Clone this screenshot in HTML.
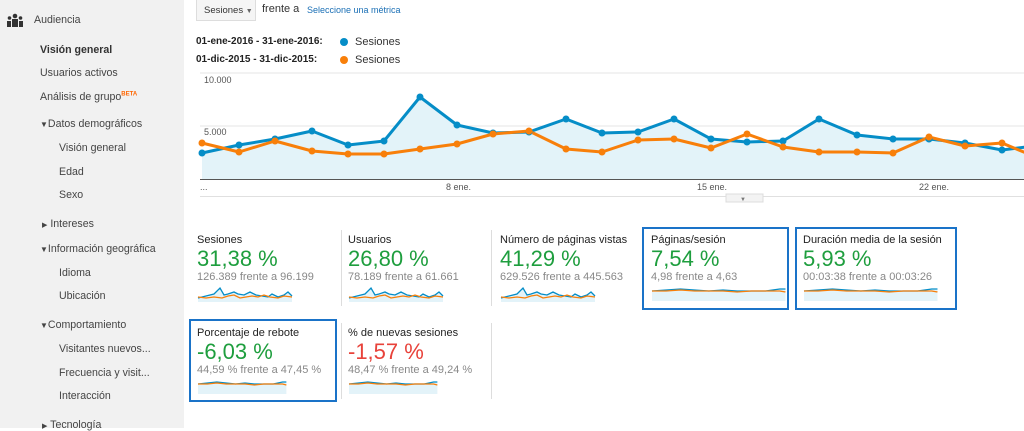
<!DOCTYPE html>
<html><head><meta charset="utf-8"><style>
*{margin:0;padding:0;box-sizing:border-box}
body{width:1024px;height:428px;overflow:hidden;background:#fff;font-family:"Liberation Sans",Arial,sans-serif;position:relative;color:#333}
.sb{position:absolute;left:0;top:0;width:184px;height:428px;background:#f1f1f1}
.t{position:absolute;white-space:nowrap}
.s1{font-size:10.6px;color:#444}
.card .h{font-size:11px;color:#222}
.card .v{font-size:22px;color:#1e9e3e}
.card .c{font-size:11px;color:#888}
.box{position:absolute;border:2px solid #1a73c8}
.sep{position:absolute;width:1px;background:#ddd}
</style></head><body>
<div class="sb"></div>
<svg class="t" style="left:7px;top:13px" width="16" height="14"><circle cx="8" cy="3" r="2.3" fill="#333"/><circle cx="2.5" cy="5" r="1.8" fill="#333"/><circle cx="13.5" cy="5" r="1.8" fill="#333"/><rect x="5" y="6" width="6" height="8" fill="#333"/><rect x="0" y="8" width="4" height="6" fill="#333"/><rect x="12" y="8" width="4" height="6" fill="#333"/></svg>
<div class="t s1" style="left:34px;top:14px">Audiencia</div>
<div class="t s1" style="left:40px;top:44px;font-weight:bold;color:#333">Visión general</div>
<div class="t s1" style="left:40px;top:67px">Usuarios activos</div>
<div class="t s1" style="left:40px;top:91px">Análisis de grupo<sup style="font-size:6px;color:#f60;font-weight:bold">BETA</sup></div>
<div class="t s1" style="left:40px;top:118px"><span style="font-size:8px">▼</span>Datos demográficos</div>
<div class="t s1" style="left:59px;top:142px">Visión general</div>
<div class="t s1" style="left:59px;top:166px">Edad</div>
<div class="t s1" style="left:59px;top:189px">Sexo</div>
<div class="t s1" style="left:42px;top:218px"><span style="font-size:7px">▶</span> Intereses</div>
<div class="t s1" style="left:40px;top:243px"><span style="font-size:8px">▼</span>Información geográfica</div>
<div class="t s1" style="left:59px;top:267px">Idioma</div>
<div class="t s1" style="left:59px;top:290px">Ubicación</div>
<div class="t s1" style="left:40px;top:319px"><span style="font-size:8px">▼</span>Comportamiento</div>
<div class="t s1" style="left:59px;top:343px">Visitantes nuevos...</div>
<div class="t s1" style="left:59px;top:367px">Frecuencia y visit...</div>
<div class="t s1" style="left:59px;top:390px">Interacción</div>
<div class="t s1" style="left:42px;top:419px"><span style="font-size:7px">▶</span> Tecnología</div>

<div class="t" style="left:196px;top:0;width:60px;height:21px;border:1px solid #ddd;border-top:none;background:#f5f5f5;font-size:9.5px;padding:5px 0 0 7px;color:#333">Sesiones <span style="font-size:7px;color:#666">▼</span></div>
<div class="t" style="left:262px;top:3px;font-size:11px;color:#333">frente a</div>
<div class="t" style="left:307px;top:5px;font-size:9px;color:#1a6fb5">Seleccione una métrica</div>
<div class="t" style="left:196px;top:36px;font-size:10px;font-weight:bold;color:#222">01-ene-2016 - 31-ene-2016:</div>
<div class="t" style="left:196px;top:54px;font-size:10px;font-weight:bold;color:#222">01-dic-2015 - 31-dic-2015:</div>
<svg class="t" style="left:339px;top:37px" width="10" height="30"><circle cx="5" cy="5" r="4" fill="#058dc7"/><circle cx="5" cy="23" r="4" fill="#f87f0a"/></svg>
<div class="t" style="left:355px;top:36px;font-size:11px;color:#333">Sesiones</div>
<div class="t" style="left:355px;top:54px;font-size:11px;color:#333">Sesiones</div>

<svg class="t" style="left:0;top:0" width="1024" height="210">
<line x1="200" y1="73" x2="1024" y2="73" stroke="#e6e6e6"/>
<line x1="200" y1="126" x2="1024" y2="126" stroke="#e6e6e6"/>
<polygon fill="#e3f3f9" points="202,179 202,153 239,145 275,139 312,131 348,145 384,141 420,97 457,125 493,133 529,132 566,119 602,133 638,132 674,119 711,139 747,142 783,141 819,119 857,135 893,139 929,139 965,143 1002,150 1026,147 1026,179"/>
<line x1="200" y1="179.5" x2="1024" y2="179.5" stroke="#555"/>
<line x1="200" y1="196.5" x2="1024" y2="196.5" stroke="#e0e0e0"/>
<polyline fill="none" stroke="#058dc7" stroke-width="3" stroke-linejoin="round" points="202,153 239,145 275,139 312,131 348,145 384,141 420,97 457,125 493,133 529,132 566,119 602,133 638,132 674,119 711,139 747,142 783,141 819,119 857,135 893,139 929,139 965,143 1002,150 1026,147"/>
<polyline fill="none" stroke="#f87f0a" stroke-width="3" stroke-linejoin="round" points="202,143 239,152 275,141 312,151 348,154 384,154 420,149 457,144 493,134 529,131 566,149 602,152 638,140 674,139 711,148 747,134 783,147 819,152 857,152 893,153 929,137 965,146 1002,143 1026,153"/>
<g fill="#058dc7"><circle cx="202" cy="153" r="3.5"/><circle cx="239" cy="145" r="3.5"/><circle cx="275" cy="139" r="3.5"/><circle cx="312" cy="131" r="3.5"/><circle cx="348" cy="145" r="3.5"/><circle cx="384" cy="141" r="3.5"/><circle cx="420" cy="97" r="3.5"/><circle cx="457" cy="125" r="3.5"/><circle cx="493" cy="133" r="3.5"/><circle cx="529" cy="132" r="3.5"/><circle cx="566" cy="119" r="3.5"/><circle cx="602" cy="133" r="3.5"/><circle cx="638" cy="132" r="3.5"/><circle cx="674" cy="119" r="3.5"/><circle cx="711" cy="139" r="3.5"/><circle cx="747" cy="142" r="3.5"/><circle cx="783" cy="141" r="3.5"/><circle cx="819" cy="119" r="3.5"/><circle cx="857" cy="135" r="3.5"/><circle cx="893" cy="139" r="3.5"/><circle cx="929" cy="139" r="3.5"/><circle cx="965" cy="143" r="3.5"/><circle cx="1002" cy="150" r="3.5"/></g>
<g fill="#f87f0a"><circle cx="202" cy="143" r="3.5"/><circle cx="239" cy="152" r="3.5"/><circle cx="275" cy="141" r="3.5"/><circle cx="312" cy="151" r="3.5"/><circle cx="348" cy="154" r="3.5"/><circle cx="384" cy="154" r="3.5"/><circle cx="420" cy="149" r="3.5"/><circle cx="457" cy="144" r="3.5"/><circle cx="493" cy="134" r="3.5"/><circle cx="529" cy="131" r="3.5"/><circle cx="566" cy="149" r="3.5"/><circle cx="602" cy="152" r="3.5"/><circle cx="638" cy="140" r="3.5"/><circle cx="674" cy="139" r="3.5"/><circle cx="711" cy="148" r="3.5"/><circle cx="747" cy="134" r="3.5"/><circle cx="783" cy="147" r="3.5"/><circle cx="819" cy="152" r="3.5"/><circle cx="857" cy="152" r="3.5"/><circle cx="893" cy="153" r="3.5"/><circle cx="929" cy="137" r="3.5"/><circle cx="965" cy="146" r="3.5"/><circle cx="1002" cy="143" r="3.5"/></g>
<g font-family="Liberation Sans,sans-serif" font-size="9" fill="#555">
<text x="204" y="83">10.000</text><text x="204" y="135">5.000</text>
<text x="200" y="190">...</text><text x="446" y="190">8 ene.</text><text x="697" y="190">15 ene.</text><text x="919" y="190">22 ene.</text></g>
<rect x="726" y="194" width="37" height="8" fill="#f3f3f3" stroke="#ddd"/>
<text x="740" y="201" font-size="6" fill="#777">▼</text>
</svg>

<div class="sep" style="left:341px;top:230px;height:76px"></div>
<div class="sep" style="left:491px;top:230px;height:76px"></div>
<div class="sep" style="left:955px;top:230px;height:76px"></div>
<div class="sep" style="left:341px;top:323px;height:76px"></div>
<div class="sep" style="left:491px;top:323px;height:76px"></div>
<div class="box" style="left:642px;top:227px;width:147px;height:83px"></div>
<div class="box" style="left:795px;top:227px;width:162px;height:83px"></div>
<div class="box" style="left:189px;top:319px;width:148px;height:83px"></div>

<div class="card">
<div class="t h" style="left:197px;top:234px">Sesiones</div><div class="t v" style="left:197px;top:246px">31,38 %</div><div class="t c" style="left:197px;top:271px">126.389 frente a 96.199</div>
<div class="t h" style="left:348px;top:234px">Usuarios</div><div class="t v" style="left:348px;top:246px">26,80 %</div><div class="t c" style="left:348px;top:271px">78.189 frente a 61.661</div>
<div class="t h" style="left:500px;top:234px">Número de páginas vistas</div><div class="t v" style="left:500px;top:246px">41,29 %</div><div class="t c" style="left:500px;top:271px">629.526 frente a 445.563</div>
<div class="t h" style="left:651px;top:234px">Páginas/sesión</div><div class="t v" style="left:651px;top:246px">7,54 %</div><div class="t c" style="left:651px;top:271px">4,98 frente a 4,63</div>
<div class="t h" style="left:803px;top:234px">Duración media de la sesión</div><div class="t v" style="left:803px;top:246px">5,93 %</div><div class="t c" style="left:803px;top:271px">00:03:38 frente a 00:03:26</div>
<div class="t h" style="left:197px;top:327px">Porcentaje de rebote</div><div class="t v" style="left:197px;top:339px">-6,03 %</div><div class="t c" style="left:197px;top:364px">44,59 % frente a 47,45 %</div>
<div class="t h" style="left:348px;top:327px">% de nuevas sesiones</div><div class="t v" style="left:348px;top:339px;color:#e8423a">-1,57 %</div><div class="t c" style="left:348px;top:364px">48,47 % frente a 49,24 %</div>
</div>

<svg class="t" style="left:0;top:0" width="1024" height="428">
<defs>
<g id="sp1"><polygon fill="#e3f3f9" points="0,8 8,6 16,4 22,-2 26,5 30,4 36,2 40,4 46,5 52,2 58,5 64,6 70,7 74,4 80,7 86,5 90,2 94,6 94,12 0,12"/><polyline fill="none" stroke="#058dc7" stroke-width="1.3" points="0,8 8,6 16,4 22,-2 26,5 30,4 36,2 40,4 46,5 52,2 58,5 64,6 70,7 74,4 80,7 86,5 90,2 94,6"/><polyline fill="none" stroke="#f87f0a" stroke-width="1.3" points="0,7 8,8 16,7 24,8 30,6 36,5 42,8 48,7 54,6 60,7 66,5 72,7 80,8 86,6 94,7"/></g>
<g id="sp2"><polygon fill="#e3f3f9" points="0,4 10,3 20,2 30,3 40,4 50,3 60,4 70,4 80,4 90,2 94,2 94,14 0,14"/><polyline fill="none" stroke="#058dc7" stroke-width="1.3" points="0,4 10,3 20,2 30,3 40,4 50,3 60,4 70,4 80,4 90,2 94,2"/><polyline fill="none" stroke="#f87f0a" stroke-width="1.3" points="0,4 10,4 20,3 30,4 40,4 50,4 60,5 70,4 80,4 90,4 94,5"/></g>
</defs>
<use href="#sp1" transform="translate(198,290)"/>
<use href="#sp1" transform="translate(349,290)"/>
<use href="#sp1" transform="translate(501,290)"/>
<use href="#sp2" transform="translate(652,287) scale(1.42,1)"/>
<use href="#sp2" transform="translate(804,287) scale(1.42,1)"/>
<use href="#sp2" transform="translate(198,380) scale(0.94,1)"/>
<use href="#sp2" transform="translate(349,380) scale(0.94,1)"/>
</svg>
</body></html>
